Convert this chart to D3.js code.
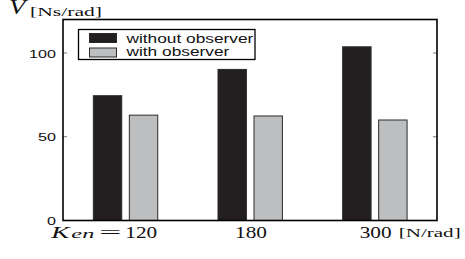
<!DOCTYPE html>
<html>
<head>
<meta charset="utf-8">
<script src="https://cdn.jsdelivr.net/npm/d3@7"></script>
<style>
  body { margin: 0; background: #fff; }
  svg { display: block; }
</style>
</head>
<body>
<div id="chart"></div>
<script>
// gains K_en and the two series
const categories = ["120", "180", "300"];
const withoutObserver = [74.5, 90.2, 103.7];
const withObserver = [62.9, 62.4, 60.0];
const seriesNames = ["without observer", "with observer"];
const yTicks = [0, 50, 100];

const width = 465, height = 259;
const box = { left: 63, right: 437, top: 19.5, bottom: 220.5 };

const svg = d3.select("#chart").append("svg")
  .attr("width", width)
  .attr("height", height);

const x = d3.scaleBand().domain(categories).range([box.left, box.right]).padding(0);
const y = d3.scaleLinear().domain([0, 120]).range([box.bottom, box.top]);

const barW = 28.4;
const colors = ["#231f20", "#bcbec0"];

// stretch text horizontally the way the original figure is stretched
function stretch(sel, factor) {
  sel.each(function () {
    const w = this.getComputedTextLength();
    d3.select(this).attr("textLength", w * factor).attr("lengthAdjust", "spacingAndGlyphs");
  });
}

// bars
const series = [withoutObserver, withObserver];
series.forEach((vals, si) => {
  svg.append("g").selectAll("rect")
    .data(vals)
    .join("rect")
    .attr("x", (d, i) => x(categories[i]) + x.bandwidth() / 2 + (si === 0 ? -barW - 3.6 : 4))
    .attr("y", d => y(d))
    .attr("width", barW)
    .attr("height", d => y(0) - y(d))
    .attr("fill", colors[si])
    .attr("stroke", "#2a2a2a")
    .attr("stroke-width", 1);
});

// inner ticks left and right
const tickVals = yTicks.filter(t => t > 0);
svg.append("g").selectAll("line.l")
  .data(tickVals)
  .join("line")
  .attr("x1", box.left).attr("x2", box.left + 4)
  .attr("y1", d => y(d)).attr("y2", d => y(d))
  .attr("stroke", "#777").attr("stroke-width", 1);
svg.append("g").selectAll("line.r")
  .data(tickVals)
  .join("line")
  .attr("x1", box.right - 4).attr("x2", box.right)
  .attr("y1", d => y(d)).attr("y2", d => y(d))
  .attr("stroke", "#777").attr("stroke-width", 1);

// frame
svg.append("rect")
  .attr("x", box.left).attr("y", box.top)
  .attr("width", box.right - box.left)
  .attr("height", box.bottom - box.top)
  .attr("fill", "none")
  .attr("stroke", "#000")
  .attr("stroke-width", 1.6);

// y tick labels
svg.append("g").selectAll("text")
  .data(yTicks)
  .join("text")
  .attr("x", 56)
  .attr("y", d => y(d) + 4.5)
  .attr("text-anchor", "end")
  .attr("font-family", "Liberation Sans, Arial, sans-serif")
  .attr("font-size", 11.5)
  .attr("fill", "#111")
  .text(d => d)
  .call(stretch, 1.4);

// legend
const legend = svg.append("g");
legend.append("rect")
  .attr("x", 78.5).attr("y", 29.5)
  .attr("width", 176.5).attr("height", 30)
  .attr("fill", "#fff").attr("stroke", "#000").attr("stroke-width", 1.3);
seriesNames.forEach((name, i) => {
  legend.append("rect")
    .attr("x", 89.5).attr("y", 33.5 + i * 14.5)
    .attr("width", 27).attr("height", 9)
    .attr("fill", colors[i]).attr("stroke", "#2a2a2a").attr("stroke-width", 1);
  legend.append("text")
    .attr("x", 126.5).attr("y", 42.5 + i * 13.5)
    .attr("font-family", "Liberation Sans, Arial, sans-serif")
    .attr("font-size", 12)
    .attr("fill", "#111")
    .text(name)
    .call(stretch, 1.44);
});

// y axis title
const serif = "Liberation Serif, Times New Roman, serif";
svg.append("text")
  .attr("x", 9).attr("y", 13.5)
  .attr("font-family", serif).attr("font-style", "italic")
  .attr("font-size", 20).attr("fill", "#111")
  .text("V")
  .call(stretch, 1.35);
svg.append("text")
  .attr("x", 30).attr("y", 15.5)
  .attr("font-family", serif)
  .attr("font-size", 12.5).attr("fill", "#111")
  .attr("textLength", 72).attr("lengthAdjust", "spacingAndGlyphs")
  .text("[Ns/rad]");

// x labels
const baseY = 238;
svg.append("g").selectAll("text")
  .data(categories)
  .join("text")
  .attr("x", (d, i) => i === 0 ? x(d) + x.bandwidth() / 2 : x(d) + x.bandwidth() / 2 + 1)
  .attr("y", baseY)
  .attr("text-anchor", (d, i) => i === 0 ? "start" : "middle")
  .attr("font-family", serif)
  .attr("font-size", 16)
  .attr("fill", "#111")
  .text(d => d)
  .call(stretch, 1.33);

const c0 = x(categories[0]) + x.bandwidth() / 2;
svg.append("text")
  .attr("x", c0 - 74).attr("y", baseY)
  .attr("font-family", serif).attr("font-style", "italic")
  .attr("font-size", 17).attr("fill", "#111")
  .attr("textLength", 18).attr("lengthAdjust", "spacingAndGlyphs")
  .text("K");
svg.append("text")
  .attr("x", c0 - 54).attr("y", baseY)
  .attr("font-family", serif).attr("font-style", "italic")
  .attr("font-size", 13).attr("fill", "#111")
  .attr("textLength", 23).attr("lengthAdjust", "spacingAndGlyphs")
  .text("en");
svg.append("text")
  .attr("x", c0 - 26).attr("y", baseY)
  .attr("font-family", serif)
  .attr("font-size", 16).attr("fill", "#111")
  .attr("textLength", 22).attr("lengthAdjust", "spacingAndGlyphs")
  .text("=");

const c2 = x(categories[2]) + x.bandwidth() / 2;
svg.append("text")
  .attr("x", c2 + 24).attr("y", baseY - 1)
  .attr("font-family", serif)
  .attr("font-size", 11.5).attr("fill", "#111")
  .attr("textLength", 62).attr("lengthAdjust", "spacingAndGlyphs")
  .text("[N/rad]");
</script>
</body>
</html>
